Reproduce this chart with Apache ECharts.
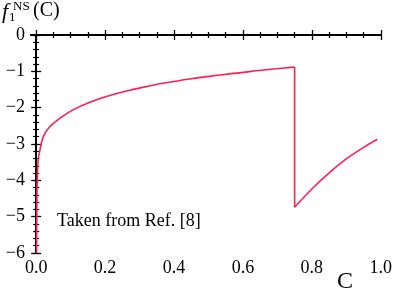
<!DOCTYPE html>
<html>
<head>
<meta charset="utf-8">
<script src="https://cdn.jsdelivr.net/npm/echarts@6/dist/echarts.min.js"></script>
<style>html,body{margin:0;padding:0;background:#fff}#c{width:395px;height:293px}</style>
</head>
<body>
<div id="c"></div>
<script>
// Data
const branch1C = [0.0012, 0.0018, 0.003, 0.006, 0.011, 0.021, 0.040, 0.069, 0.107, 0.156, 0.223, 0.272, 0.320, 0.368, 0.445, 0.527, 0.624, 0.720, 0.750];
const branch1F = [-6.0, -5.0, -4.0, -3.43, -3.16, -2.79, -2.52, -2.29, -2.06, -1.85, -1.64, -1.52, -1.42, -1.33, -1.21, -1.11, -1.00, -0.91, -0.88];
const branch2C = [0.750, 0.803, 0.852, 0.900, 0.949, 0.990];
const branch2F = [-4.74, -4.21, -3.78, -3.41, -3.10, -2.87];
const xMajorTicks = [0, 0.2, 0.4, 0.6, 0.8, 1.0];
const xMinorTicks = [0.05, 0.1, 0.15, 0.25, 0.3, 0.35, 0.45, 0.5, 0.55, 0.65, 0.7, 0.75, 0.85, 0.9, 0.95];
const yTickLabels = ['−6', '−5', '−4', '−3', '−2', '−1', '0'];
const annotation = 'Taken from Ref. [8]';
const xAxisName = 'C';

const chart = echarts.init(document.getElementById('c'), null, {renderer: 'canvas'});
const serif = "'Liberation Serif', 'DejaVu Serif', serif";
const black = '#000';
const red = '#ff2050';
const lineW = 1.8;

function xAxisDef(pos, vals, len, showLine, labels) {
  return {
    type: 'value', position: pos, min: -0.015, max: 1.0,
    axisLine: {show: showLine, lineStyle: {color: black, width: lineW}},
    axisTick: {show: true, inside: true, length: len, customValues: vals, lineStyle: {color: black, width: 1.3}},
    axisLabel: labels ? {show: true, customValues: vals, formatter: v => v.toFixed(1), fontFamily: serif, fontSize: 18, color: black, margin: 6} : {show: false},
    splitLine: {show: false}
  };
}
function yAxisDef(pos, labels) {
  return {
    type: 'value', position: pos, min: -6, max: 0, interval: 1,
    axisLine: {show: true, lineStyle: {color: black, width: lineW}},
    axisTick: {show: true, inside: true, length: 5, lineStyle: {color: black, width: 1.3}},
    minorTick: {show: true, splitNumber: 5, length: 3, lineStyle: {color: black, width: 1.2}},
    axisLabel: labels ? {show: true, formatter: v => yTickLabels[Math.round(v) + 6], fontFamily: serif, fontSize: 18, color: black, margin: 6} : {show: false},
    splitLine: {show: false}
  };
}
function lineSeries(data, smooth) {
  return {
    type: 'line', xAxisIndex: 0, yAxisIndex: 0, data: data,
    smooth: smooth, showSymbol: false,
    lineStyle: {color: red, width: 1.6}, clip: true
  };
}
function txt(left, top, text, size, italic) {
  return {type: 'text', left: left, top: top, style: {text: text, fontFamily: serif, fontSize: size, fontStyle: italic ? 'italic' : 'normal', fill: black}};
}

const b1 = branch1C.map((c, i) => [c, branch1F[i]]);
const b2 = branch2C.map((c, i) => [c, branch2F[i]]);
const jump = [b1[b1.length - 1], b2[0]];

chart.setOption({
  animation: false,
  backgroundColor: '#fff',
  grid: {left: 31, right: 13.5, top: 35, bottom: 40, containLabel: false},
  xAxis: [
    xAxisDef('bottom', xMajorTicks, 5, true, true),
    xAxisDef('bottom', xMinorTicks, 3, false, false),
    xAxisDef('top', xMajorTicks, 5, true, false),
    xAxisDef('top', xMinorTicks, 3, false, false)
  ],
  yAxis: [yAxisDef('left', true), yAxisDef('right', false)],
  series: [lineSeries(b1, 0.35), lineSeries(jump, false), lineSeries(b2, 0.35)],
  graphic: [
    txt(2, 1, 'f', 22, true),
    txt(9, 11, '1', 13, false),
    txt(13, 0, 'NS', 13, false),
    txt(33, 1, '(C)', 20, false),
    txt(57, 212, annotation, 18, false),
    txt(337, 270, xAxisName, 24, false)
  ]
});
</script>
</body>
</html>
